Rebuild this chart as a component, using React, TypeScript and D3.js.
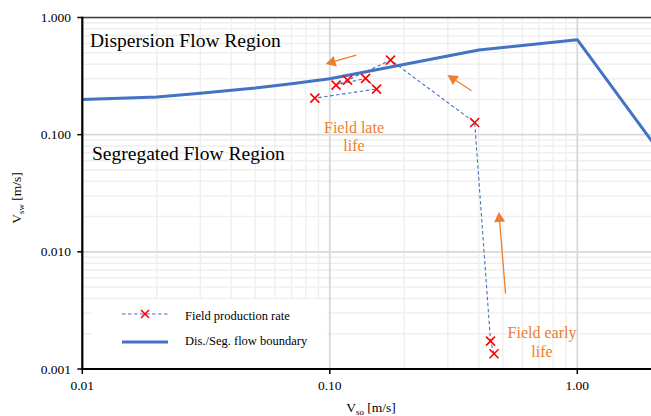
import React from "react";
import * as d3 from "d3";

const W = 651;
const H = 416;

// Dis./Seg. flow boundary
const boundaryVso = [0.01, 0.02, 0.03, 0.05, 0.07, 0.1, 0.4, 1.0, 2.0];
const boundaryVsw = [0.2, 0.21, 0.226, 0.25, 0.272, 0.3, 0.527, 0.647, 0.088];

// Field production rate (time order: early -> late)
const fieldVso = [0.461, 0.446, 0.385, 0.176, 0.118, 0.106, 0.1395, 0.1545, 0.087];
const fieldVsw = [0.00135, 0.00173, 0.127, 0.433, 0.292, 0.265, 0.302, 0.245, 0.205];

const xTickValues = [0.01, 0.1, 1];
const xTickLabels = ["0.01", "0.10", "1.00"];
const yTickValues = [0.001, 0.01, 0.1, 1];
const yTickLabels = ["0.001", "0.010", "0.100", "1.000"];

// annotation arrows
const arrowTails = [
  [0.513, 0.0044],
  [0.374, 0.237],
  [0.128, 0.478],
];
const arrowTips = [
  [0.482, 0.0219],
  [0.299, 0.323],
  [0.0962, 0.401],
];

const FONT = "'Liberation Serif', 'Times New Roman', 'DejaVu Serif', serif";
const BLUE = "#4472C4";
const ORANGE = "#ED7D31";

export default function App() {
  const left = 82.3;
  const right = 651.8;
  const top = 17.5;
  const bottom = 369;
  const x = d3.scaleLog().domain([0.01, 2]).range([left, right]);
  const y = d3.scaleLog().domain([0.001, 1]).range([bottom, top]);

  const minorX: number[] = [];
  [0.01, 0.1, 1].forEach((d) => {
    for (let k = 2; k <= 9; k++) if (k * d <= 2) minorX.push(k * d);
  });
  const minorY: number[] = [];
  [0.001, 0.01, 0.1].forEach((d) => {
    for (let k = 2; k <= 9; k++) minorY.push(k * d);
  });

  const line = d3
    .line<[number, number]>()
    .x((d) => x(d[0]))
    .y((d) => y(d[1]));

  const boundaryPts = boundaryVso.map((v, i) => [v, boundaryVsw[i]] as [number, number]);
  const fieldPts = fieldVso.map((v, i) => [v, fieldVsw[i]] as [number, number]);

  const xMark = (cx: number, cy: number, s: number, key: any) => (
    <g key={key} stroke="#FF0000" strokeWidth={1.6}>
      <line x1={cx - s} y1={cy - s} x2={cx + s} y2={cy + s} />
      <line x1={cx - s} y1={cy + s} x2={cx + s} y2={cy - s} />
    </g>
  );

  const arrow = (t: number[], h: number[], i: number) => {
    const x1 = x(t[0]);
    const y1 = y(t[1]);
    const x2 = x(h[0]);
    const y2 = y(h[1]);
    const ang = Math.atan2(y2 - y1, x2 - x1);
    const L = 10;
    const Wd = 5.5;
    const bx = x2 - L * Math.cos(ang);
    const by = y2 - L * Math.sin(ang);
    const px = -Math.sin(ang) * Wd;
    const py = Math.cos(ang) * Wd;
    return (
      <g key={"arr" + i}>
        <line x1={x1} y1={y1} x2={bx} y2={by} stroke={ORANGE} strokeWidth={1.3} />
        <path d={`M${x2},${y2} L${bx + px},${by + py} L${bx - px},${by - py} Z`} fill={ORANGE} />
      </g>
    );
  };

  return (
    <svg
      width={W}
      height={H}
      style={{ position: "absolute", left: 0, top: 0, background: "#fff", fontFamily: FONT }}
    >
      <defs>
        <clipPath id="plotclip">
          <rect x={left} y={top} width={W - left} height={bottom - top} />
        </clipPath>
      </defs>
      <g clipPath="url(#plotclip)">
        {minorX.map((v, i) => (
          <line key={"mx" + i} x1={x(v)} x2={x(v)} y1={top} y2={bottom} stroke="#EFEFEF" strokeWidth={1.5} />
        ))}
        {minorY.map((v, i) => (
          <line key={"my" + i} x1={left} x2={W} y1={y(v)} y2={y(v)} stroke="#EFEFEF" strokeWidth={1.5} />
        ))}
        {xTickValues.map((v, i) => (
          <line key={"gx" + i} x1={x(v)} x2={x(v)} y1={top} y2={bottom} stroke="#D9D9D9" strokeWidth={1.8} />
        ))}
        {yTickValues.map((v, i) => (
          <line key={"gy" + i} x1={left} x2={W} y1={y(v)} y2={y(v)} stroke="#D9D9D9" strokeWidth={1.8} />
        ))}
      </g>

      {/* top border */}
      <line x1={left} x2={W} y1={top} y2={top} stroke="#404040" strokeWidth={1.5} />

      {/* legend background */}
      <rect x={92} y={299} width={235} height={69} fill="#fff" />

      <g clipPath="url(#plotclip)">
        <path d={line(boundaryPts) || ""} fill="none" stroke={BLUE} strokeWidth={3} strokeLinejoin="round" />
        <path d={line(fieldPts) || ""} fill="none" stroke={BLUE} strokeWidth={1.1} strokeDasharray="3.5,2.5" />
        {fieldPts.map((p, i) => xMark(x(p[0]), y(p[1]), 4.5, "m" + i))}
      </g>

      {arrowTails.map((t, i) => arrow(t, arrowTips[i], i))}

      {/* axes */}
      <line x1={left} x2={left} y1={top - 0.75} y2={bottom + 1} stroke="#000" strokeWidth={2.2} />
      <line x1={left - 1} x2={W} y1={bottom} y2={bottom} stroke="#000" strokeWidth={2.2} />
      {yTickValues.map((v, i) => (
        <g key={"yt" + i}>
          <line x1={left - 5} x2={left} y1={y(v)} y2={y(v)} stroke="#000" strokeWidth={1.5} />
          <text x={71} y={y(v) + 4.5} textAnchor="end" fontSize={13.5} fill="#000">
            {yTickLabels[i]}
          </text>
        </g>
      ))}
      {xTickValues.map((v, i) => (
        <g key={"xt" + i}>
          <line x1={x(v)} x2={x(v)} y1={bottom} y2={bottom + 5} stroke="#000" strokeWidth={1.5} />
          <text x={x(v)} y={390} textAnchor="middle" fontSize={13.5} fill="#000">
            {xTickLabels[i]}
          </text>
        </g>
      ))}

      {/* axis titles */}
      <text x={371} y={412} textAnchor="middle" fontSize={13.5} fill="#000">
        V<tspan fontSize={9} dy={3}>so</tspan>
        <tspan dy={-3}> [m/s]</tspan>
      </text>
      <text transform={`translate(21,198) rotate(-90)`} textAnchor="middle" fontSize={13.5} fill="#000">
        V<tspan fontSize={9} dy={3}>sw</tspan>
        <tspan dy={-3}> [m/s]</tspan>
      </text>

      {/* region labels */}
      <text x={90} y={47} fontSize={19.5} fill="#000">Dispersion Flow Region</text>
      <text x={92} y={160} fontSize={19.5} fill="#000">Segregated Flow Region</text>

      {/* annotations */}
      <text x={354} y={133} textAnchor="middle" fontSize={16} fill={ORANGE}>Field late</text>
      <text x={354} y={151} textAnchor="middle" fontSize={16} fill={ORANGE}>life</text>
      <text x={542} y={338} textAnchor="middle" fontSize={16} fill={ORANGE}>Field early</text>
      <text x={542} y={357} textAnchor="middle" fontSize={16} fill={ORANGE}>life</text>

      {/* legend */}
      <line x1={122} x2={168} y1={314} y2={314} stroke={BLUE} strokeWidth={1.1} strokeDasharray="3.5,2.5" />
      {xMark(145, 314, 4, "lg")}
      <text x={185} y={320} fontSize={12.5} fill="#000">Field production rate</text>
      <line x1={122} x2={168} y1={342} y2={342} stroke={BLUE} strokeWidth={3} />
      <text x={185} y={345} fontSize={12.5} fill="#000">Dis./Seg. flow boundary</text>
    </svg>
  );
}
